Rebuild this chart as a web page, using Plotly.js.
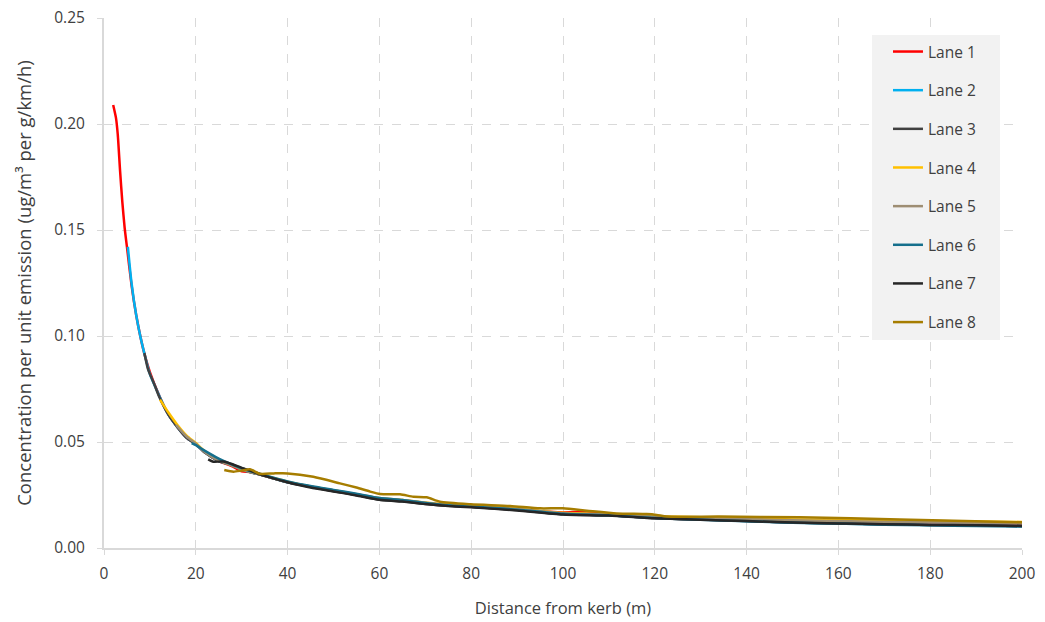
<!DOCTYPE html>
<html>
<head>
<meta charset="utf-8">
<script src="https://cdn.plot.ly/plotly-3.0.1.min.js"></script>
<style>html,body{margin:0;padding:0;background:#fff;}#chart{width:1045px;height:622px;}</style>
</head>
<body>
<div id="chart"></div>
<script>
// Distance from kerb (m) and concentration per unit emission, per lane
const lane1X = [2, 2.6, 3, 3.5, 4, 4.5, 5, 6, 7, 8, 9, 10, 12, 14, 16, 18, 20, 22, 25, 28, 30, 32, 35, 40, 45, 50, 55, 60, 65, 70, 75, 80, 90, 100, 105, 110, 120, 130, 140, 150, 160, 170, 180, 190, 200];
const lane1Y = [0.209, 0.203, 0.195, 0.178, 0.163, 0.151, 0.142, 0.124, 0.110, 0.099, 0.090, 0.083, 0.072, 0.063, 0.057, 0.052, 0.049, 0.045, 0.041, 0.0385, 0.0362, 0.0358, 0.034, 0.031, 0.029, 0.027, 0.025, 0.0232, 0.0223, 0.021, 0.020, 0.0195, 0.018, 0.0168, 0.0171, 0.0157, 0.0142, 0.0135, 0.0128, 0.0121, 0.0117, 0.0113, 0.0110, 0.0108, 0.0106];

const lane2X = [5.2, 6, 7, 8, 9, 10, 12, 14, 16, 18, 20, 22, 25, 28, 30, 35, 40, 45, 50, 55, 60, 65, 70, 75, 80, 90, 100, 110, 120, 130, 140, 150, 160, 170, 180, 190, 200];
const lane2Y = [0.142, 0.125, 0.110, 0.099, 0.090, 0.082, 0.072, 0.063, 0.057, 0.052, 0.049, 0.045, 0.041, 0.039, 0.037, 0.034, 0.031, 0.029, 0.027, 0.025, 0.023, 0.0222, 0.021, 0.020, 0.0195, 0.018, 0.016, 0.0155, 0.0142, 0.0134, 0.0127, 0.0120, 0.0116, 0.0112, 0.0109, 0.0107, 0.0104];

const lane3X = [8.8, 9.5, 10, 11, 12, 14, 16, 18, 20, 22, 25, 28, 30, 35, 40, 45, 50, 55, 60, 65, 70, 75, 80, 90, 100, 110, 120, 130, 140, 150, 160, 170, 180, 190, 200];
const lane3Y = [0.092, 0.085, 0.082, 0.077, 0.0715, 0.063, 0.057, 0.052, 0.049, 0.045, 0.041, 0.039, 0.037, 0.034, 0.031, 0.0288, 0.0268, 0.025, 0.0228, 0.022, 0.0208, 0.0199, 0.0194, 0.0179, 0.0159, 0.0154, 0.0141, 0.0134, 0.0127, 0.0120, 0.0116, 0.0112, 0.0109, 0.0107, 0.0104];

const lane4X = [12.2, 14, 16, 18, 20, 22, 25, 28, 30, 35, 40, 45, 50, 55, 60, 65, 70, 75, 80, 90, 100, 110, 120, 130, 140, 150, 160, 170, 180, 190, 200];
const lane4Y = [0.070, 0.064, 0.058, 0.053, 0.0495, 0.0455, 0.0415, 0.039, 0.0372, 0.0342, 0.0313, 0.029, 0.0272, 0.0253, 0.0235, 0.0227, 0.0215, 0.0205, 0.0199, 0.0185, 0.0166, 0.0160, 0.0150, 0.0145, 0.0140, 0.0135, 0.0132, 0.0129, 0.0127, 0.0125, 0.0123];

const lane5X = [15.7, 18, 20, 22, 25, 28, 30, 35, 40, 45, 50, 55, 60, 65, 70, 75, 80, 90, 100, 110, 120, 130, 140, 150, 160, 170, 180, 190, 200];
const lane5Y = [0.058, 0.0525, 0.0492, 0.0452, 0.0412, 0.0388, 0.0370, 0.0340, 0.0312, 0.0290, 0.0272, 0.0254, 0.0236, 0.0226, 0.0214, 0.0204, 0.0198, 0.0184, 0.0164, 0.0158, 0.0148, 0.0142, 0.0136, 0.0131, 0.0127, 0.0124, 0.0121, 0.0119, 0.0117];

const lane6X = [19.1, 20, 22, 25, 28, 30, 35, 40, 45, 50, 55, 60, 65, 70, 75, 80, 90, 100, 110, 120, 130, 140, 150, 160, 170, 180, 190, 200];
const lane6Y = [0.0495, 0.0485, 0.0458, 0.0422, 0.0393, 0.0376, 0.0343, 0.0314, 0.0292, 0.0274, 0.0256, 0.0236, 0.0226, 0.0212, 0.0202, 0.0196, 0.0181, 0.0161, 0.0154, 0.0141, 0.0133, 0.0126, 0.0119, 0.0115, 0.0110, 0.0107, 0.0104, 0.0101];

const lane7X = [22.7, 23.8, 26, 28, 30, 32, 35, 40, 45, 50, 55, 60, 65, 70, 75, 80, 90, 100, 110, 120, 130, 140, 150, 160, 170, 180, 190, 200];
const lane7Y = [0.0418, 0.0407, 0.0408, 0.0395, 0.0378, 0.0364, 0.0340, 0.0310, 0.0285, 0.0267, 0.0248, 0.0228, 0.0219, 0.0207, 0.0198, 0.0192, 0.0177, 0.0158, 0.0153, 0.0140, 0.0133, 0.0127, 0.0120, 0.0116, 0.0112, 0.0109, 0.0107, 0.0104];

const lane8X = [26.2, 28.2, 30, 31.8, 34, 37, 40, 45.6, 51.4, 55, 58, 60.1, 64.5, 67.4, 70.3, 73.2, 79.9, 88.5, 95, 100, 105.2, 111.7, 118.2, 120.4, 122.6, 134, 151.6, 173.4, 200];
const lane8Y = [0.0368, 0.0360, 0.0365, 0.0371, 0.0350, 0.0352, 0.0352, 0.0336, 0.0305, 0.0285, 0.0266, 0.0255, 0.0253, 0.0242, 0.0239, 0.0218, 0.0206, 0.0198, 0.0187, 0.0187, 0.0176, 0.0163, 0.0160, 0.0156, 0.0148, 0.0148, 0.0145, 0.0135, 0.0121];

const laneNames = ["Lane 1", "Lane 2", "Lane 3", "Lane 4", "Lane 5", "Lane 6", "Lane 7", "Lane 8"];
const laneColors = ["#FF0000", "#00B0F0", "#404040", "#FFC000", "#9E8E73", "#156F8C", "#262626", "#A67D00"];
const xs = [lane1X, lane2X, lane3X, lane4X, lane5X, lane6X, lane7X, lane8X];
const ys = [lane1Y, lane2Y, lane3Y, lane4Y, lane5Y, lane6Y, lane7Y, lane8Y];

const traces = laneNames.map((n, i) => ({
  type: "scatter", mode: "lines", name: n, x: xs[i], y: ys[i],
  line: {color: laneColors[i], width: 2.5, shape: "spline", smoothing: 0.6},
  legendgroup: "g" + i
}));

const fontFam = "'Open Sans', 'Noto Sans', sans-serif";
const layout = {
  width: 1045, height: 622,
  margin: {l: 104, r: 23, t: 18, b: 74},
  paper_bgcolor: "#ffffff", plot_bgcolor: "#ffffff",
  font: {family: fontFam, size: 15, color: "#404040"},
  showlegend: true,
  legend: {
    x: 0.854, y: 0.968, xanchor: "left", yanchor: "top",
    bgcolor: "rgba(0,0,0,0)", borderwidth: 0,
    font: {family: fontFam, size: 15.5, color: "#404040"},
    tracegroupgap: 15.5, itemwidth: 30
  },
  shapes: [{
    type: "rect", xref: "paper", yref: "paper", layer: "above",
    x0: (872 - 104) / 918, x1: (1000 - 104) / 918,
    y0: (548 - 340) / 530, y1: (548 - 35) / 530,
    fillcolor: "#F2F2F2", line: {width: 0}
  }],
  xaxis: {
    range: [0, 200], dtick: 20, tick0: 0,
    showgrid: true, gridcolor: "#D9D9D9", griddash: "dash", gridwidth: 1,
    showline: true, linecolor: "#D9D9D9", linewidth: 2,
    ticks: "outside", ticklen: 5, tickcolor: "#D9D9D9",
    zeroline: false, ticklabelstandoff: 5,
    tickfont: {family: fontFam, size: 15.5, color: "#404040"},
    title: {text: "Distance from kerb (m)", font: {family: fontFam, size: 16.5, color: "#404040"}, standoff: 20}
  },
  yaxis: {
    range: [0, 0.25], dtick: 0.05, tick0: 0, tickformat: ".2f",
    showgrid: true, gridcolor: "#D9D9D9", griddash: "dash", gridwidth: 1,
    showline: true, linecolor: "#D9D9D9", linewidth: 2,
    ticks: "outside", ticklen: 5, tickcolor: "#D9D9D9",
    zeroline: false, ticklabelstandoff: 9,
    tickfont: {family: fontFam, size: 15.5, color: "#404040"},
    title: {text: "Concentration per unit emission (ug/m³ per g/km/h)", font: {family: fontFam, size: 18.5, color: "#404040"}, standoff: 18}
  }
};

Plotly.newPlot("chart", traces, layout, {displayModeBar: false, staticPlot: true});
</script>
</body>
</html>
